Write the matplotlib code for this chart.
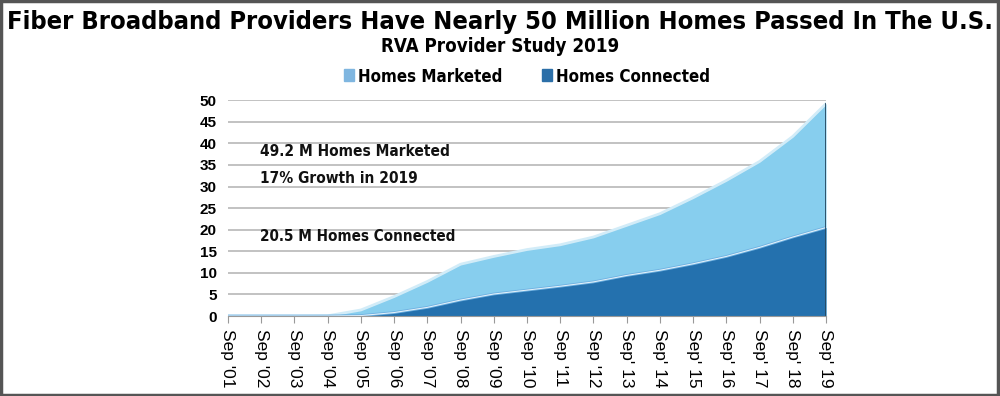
import numpy as np
import matplotlib
matplotlib.use('Agg')
import matplotlib.pyplot as plt
from matplotlib.patches import Rectangle

# Data (millions of homes)
years = ["Sep '01", "Sep '02", "Sep '03", "Sep '04", "Sep '05", "Sep '06", "Sep '07",
         "Sep '08", "Sep '09", "Sep '10", "Sep '11", "Sep '12", "Sep' 13", "Sep' 14",
         "Sep' 15", "Sep' 16", "Sep' 17", "Sep' 18", "Sep' 19"]
marketed = [0, 0, 0, 0.05, 1.4, 4.5, 8.0, 12.0, 13.8, 15.4, 16.5, 18.3, 21.0, 23.7,
            27.4, 31.4, 35.8, 41.6, 49.2]
connected = [0, 0, 0, 0, 0.1, 0.8, 2.0, 3.7, 5.1, 6.0, 6.9, 7.9, 9.4, 10.6,
             12.1, 13.8, 15.9, 18.3, 20.5]

narrow = ['DejaVu Sans']
arial = ['Liberation Sans', 'DejaVu Sans']

light = '#87CEEE'
dark = '#2471AE'

fig = plt.figure(figsize=(10, 3.96), dpi=100)
ax = fig.add_axes([0.228, 0.202, 0.598, 0.545])

x = np.arange(len(years))
ax.fill_between(x, marketed, color=light, lw=0, zorder=2)
ax.plot(x, marketed, color='#D2ECF8', lw=2, zorder=3)
ax.fill_between(x, connected, color=dark, lw=0, zorder=4)
ax.plot(x, connected, color='#6FB2E2', lw=2, zorder=5)
ax.plot(x, connected, color='#E8F4FB', lw=0.7, zorder=6)
# darker right edge
ax.plot([x[-1], x[-1]], [0, marketed[-1]], color='#24475F', lw=2, zorder=7)

# legend proxies
ax.fill_between([], [], color='#7FB6E0', label='Homes Marketed')
ax.fill_between([], [], color='#2C6FA8', label='Homes Connected')

ax.set_xlim(0, len(years) - 1)
ax.set_ylim(0, 50)
ax.set_yticks(range(0, 51, 5))
ax.set_xticks(x)
ax.set_xticklabels(years, rotation=270, fontsize=12.5, family=arial)
for lbl in ax.get_yticklabels():
    lbl.set_fontweight('bold')
    lbl.set_family(arial)
    lbl.set_fontsize(11)
ax.yaxis.grid(True, color='#B8B8B8', lw=1.2, zorder=0)
ax.set_axisbelow(True)
for s in ['top', 'right', 'left']:
    ax.spines[s].set_visible(False)
ax.spines['bottom'].set_color('#999999')
ax.spines['bottom'].set_zorder(8)
ax.tick_params(axis='y', length=0, pad=8)
ax.tick_params(axis='x', length=5, color='#999999', pad=4)

ann = []
for yv, s in [(38.2, '49.2 M Homes Marketed'), (31.9, '17% Growth in 2019'),
              (18.4, '20.5 M Homes Connected')]:
    ann.append(ax.text(0.95, yv, s, fontsize=14, fontweight='bold', fontstretch='condensed',
                       family=narrow, va='center', color='#111111'))

title = fig.text(0.5, 0.945, 'Fiber Broadband Providers Have Nearly 50 Million Homes Passed In The U.S.',
                 ha='center', va='center', fontsize=21, fontweight='bold',
                 fontstretch='condensed', family=narrow)
sub = fig.text(0.5, 0.882, 'RVA Provider Study 2019', ha='center', va='center',
               fontsize=14, fontweight='bold', fontstretch='condensed', family=narrow)

leg = fig.legend(loc='center', bbox_to_anchor=(0.527, 0.805), ncol=2, frameon=False,
                 prop={'family': narrow, 'weight': 'bold', 'size': 14, 'stretch': 'condensed'},
                 handlelength=0.55, handleheight=0.55, handletextpad=0.2, columnspacing=2.0)


def fit_width(t, width_px):
    # shrink the font so the text spans about width_px pixels
    fig.canvas.draw()
    w = t.get_window_extent().width
    t.set_fontsize(t.get_fontsize() * width_px / w)


fit_width(title, 988)
fit_width(sub, 240)
for t, w in zip(ann, [190, 158, 196]):
    fit_width(t, w)
fig.canvas.draw()
lw_now = sum(tx.get_window_extent().width for tx in leg.get_texts())
scale = 301 / lw_now
for tx in leg.get_texts():
    tx.set_fontsize(tx.get_fontsize() * scale)

fig.patches.append(Rectangle((0.001, 0.002), 0.997, 0.995, transform=fig.transFigure,
                             fill=False, edgecolor='#555555', lw=2.5))

fig.savefig('out.png', dpi=100)
